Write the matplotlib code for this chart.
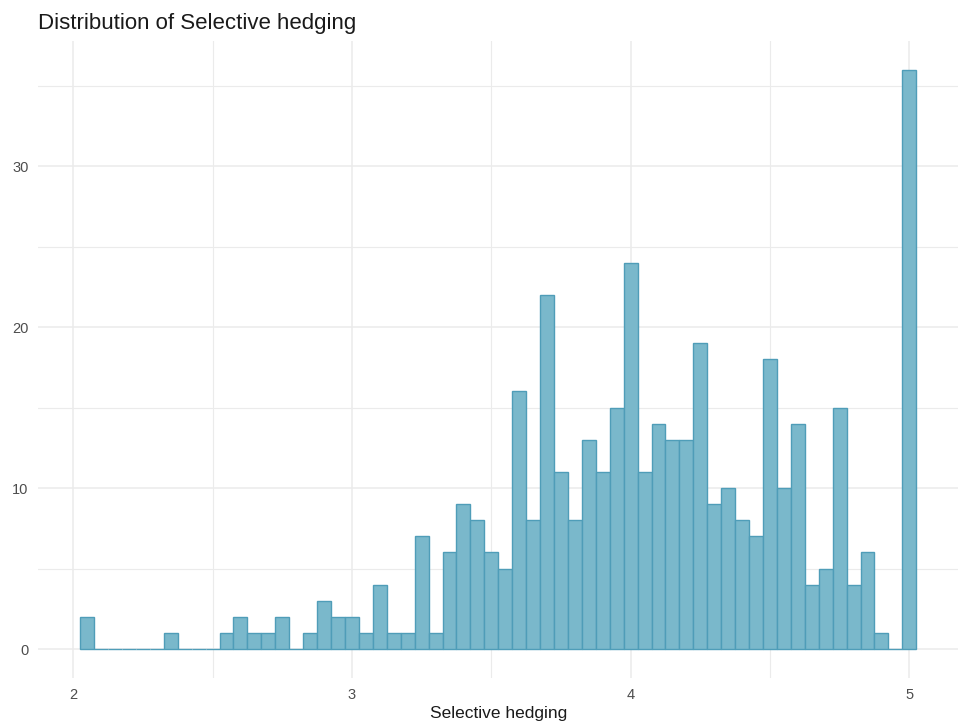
"""Histogram of the Selective hedging score, styled like ggplot2 theme_minimal."""
import matplotlib.pyplot as plt
import numpy as np
from matplotlib.ticker import MultipleLocator

plt.rcParams["font.family"] = ["Liberation Sans", "DejaVu Sans"]

# bin centres (width 0.05) and counts
bin_width = 0.05
bin_centers = np.round(np.arange(2.05, 5.0001, bin_width), 2)
counts = [
    2, 0, 0, 0, 0, 0, 1, 0, 0, 0,
    1, 2, 1, 1, 2, 0, 1, 3, 2, 2,
    1, 4, 1, 1, 7, 1, 6, 9, 8, 6,
    5, 16, 8, 22, 11, 8, 13, 11, 15, 24,
    11, 14, 13, 13, 19, 9, 10, 8, 7, 18,
    10, 14, 4, 5, 15, 4, 6, 1, 0, 36,
]
x_ticks = [2, 3, 4, 5]
y_ticks = [0, 10, 20, 30]

fig = plt.figure(figsize=(9.6, 7.24), dpi=100)
ax = fig.add_axes([0.040, 0.0635, 0.958, 0.8805])

ax.bar(
    bin_centers,
    counts,
    width=bin_width,
    color="#7ab8cb",
    edgecolor="#4f9db8",
    linewidth=1.0,
    zorder=3,
)

# ggplot-like expansion of 5% on both axes
x_lo = bin_centers[0] - bin_width / 2
x_hi = bin_centers[-1] + bin_width / 2
x_pad = 0.05 * (x_hi - x_lo)
ax.set_xlim(x_lo - x_pad, x_hi + x_pad)
y_pad = 0.05 * max(counts)
ax.set_ylim(-y_pad, max(counts) + y_pad)

ax.set_xticks(x_ticks)
ax.set_yticks(y_ticks)
ax.xaxis.set_minor_locator(MultipleLocator(0.5))
ax.yaxis.set_minor_locator(MultipleLocator(5))
ax.grid(which="major", color="#ebebeb", linewidth=1.1, zorder=0)
ax.grid(which="minor", color="#ebebeb", linewidth=0.8, zorder=0)
ax.tick_params(which="both", length=0, labelsize=10.5, labelcolor="#4d4d4d")
ax.tick_params(axis="x", pad=7)
ax.tick_params(axis="y", pad=7)
for spine in ax.spines.values():
    spine.set_visible(False)

ax.set_xlabel("Selective hedging", fontsize=12.5, color="#1a1a1a", labelpad=3)
fig.text(0.040, 0.968, "Distribution of Selective hedging", fontsize=16,
         color="#1a1a1a", ha="left", va="center")

fig.savefig("out.png", dpi=100)
